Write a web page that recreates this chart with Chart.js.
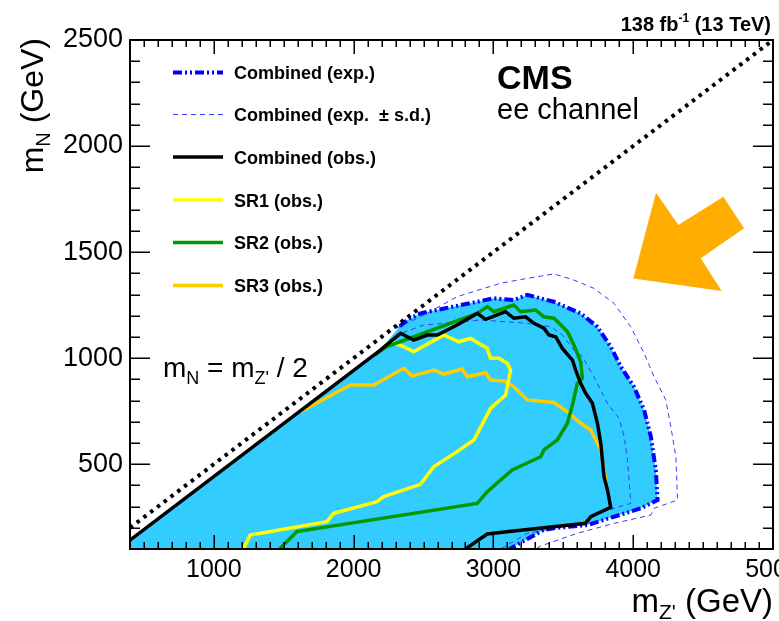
<!DOCTYPE html>
<html>
<head>
<meta charset="utf-8">
<script src="https://cdn.jsdelivr.net/npm/chart.js@4/dist/chart.umd.min.js"></script>
<style>
  html, body { margin: 0; padding: 0; background: #ffffff; }
  canvas { display: block; }
</style>
</head>
<body>
<canvas id="limits" width="779" height="621"></canvas>
<script>
// Axis ranges and tick labels (GeV)
const xRange = [400, 5000];
const yRange = [100, 2500];
const xTickLabels = [1000, 2000, 3000, 4000, 5000];
const yTickLabels = [500, 1000, 1500, 2000, 2500];

// Exclusion contours, [m_Z', m_N] in GeV
const combinedExp = [
  [2330, 1150], [2382, 1180], [2478, 1211], [2764, 1250], [3003, 1282], [3146, 1274],
  [3242, 1298], [3432, 1266], [3624, 1211], [3743, 1148], [3839, 1054], [3911, 960],
  [4005, 865], [4078, 755], [4126, 630], [4162, 472], [4174, 331], [4054, 292],
  [3862, 252], [3672, 213], [3433, 198], [3359, 190], [3115, 100]
];
const combinedExpUp = [
  [2300, 1140], [2478, 1195], [2741, 1290], [3051, 1353], [3242, 1376], [3433, 1397],
  [3576, 1368], [3719, 1329], [3863, 1258], [3982, 1148], [4078, 1023], [4149, 912],
  [4233, 803], [4269, 677], [4305, 535], [4317, 331], [4149, 292], [4126, 260],
  [3863, 221], [3600, 174], [3338, 114], [3302, 100]
];
const combinedExpDown = [
  [2350, 1120], [2502, 1156], [2908, 1180], [3242, 1164], [3409, 1148], [3493, 1109],
  [3576, 1038], [3636, 1007], [3719, 912], [3815, 787], [3899, 716], [3935, 630],
  [3959, 520], [3983, 315], [3863, 292], [3719, 260], [3624, 221], [3242, 174], [3051, 100]
];
const combinedObs = [
  [400, 142], [2191, 1038], [2335, 1117], [2430, 1085], [2526, 1109], [2598, 1109],
  [2740, 1156], [2884, 1211], [2944, 1183], [3087, 1219], [3146, 1188], [3230, 1195],
  [3290, 1164], [3361, 1141], [3397, 1109], [3445, 1101], [3493, 1046], [3565, 991],
  [3588, 944], [3624, 881], [3660, 834], [3708, 787], [3744, 693], [3768, 598],
  [3791, 441], [3816, 378], [3839, 297], [3696, 252], [3660, 221], [3144, 185],
  [2956, 171], [2800, 100]
];
const sr1Obs = [
  [1212, 100], [1260, 166], [1809, 229], [1857, 268], [2167, 323], [2215, 347],
  [2478, 405], [2573, 488], [2740, 559], [2860, 614], [2979, 763], [3087, 826],
  [3123, 944], [3099, 976], [3039, 999], [2979, 999], [2956, 1046], [2836, 1093],
  [2752, 1077], [2645, 1109], [2430, 1030], [2358, 1054], [2263, 1077], [2200, 1045]
];
const sr2Obs = [
  [1470, 100], [1594, 182], [2884, 315], [2956, 370], [3134, 473], [3338, 535],
  [3361, 567], [3457, 614], [3529, 693], [3565, 779], [3600, 881], [3636, 905],
  [3624, 983], [3576, 1062], [3529, 1125], [3433, 1188], [3361, 1195], [3302, 1227],
  [3194, 1219], [3146, 1250], [3003, 1219], [2956, 1243], [2884, 1211], [2238, 1054],
  [2150, 1015]
];
const sr3Obs = [
  [1618, 747], [1976, 873], [2143, 873], [2358, 952], [2418, 916], [2573, 944],
  [2645, 925], [2776, 949], [2812, 912], [2944, 931], [2979, 897], [3075, 892],
  [3146, 865], [3242, 803], [3433, 791], [3529, 747], [3624, 693], [3696, 661],
  [3768, 567], [3791, 472], [3805, 420]
];
// m_N = m_Z' / 2 boundary
const kinematicEdge = [[400, 200], [5000, 2500]];
// Block arrow outline, in GeV coordinates
const arrowShape = [
  [4001, 1376], [4163, 1780], [4323, 1628], [4645, 1761],
  [4793, 1612], [4483, 1471], [4633, 1317]
];

const legendLabels = [
  'Combined (exp.)', 'Combined (exp.  \u00b1 s.d.)', 'Combined (obs.)',
  'SR1 (obs.)', 'SR2 (obs.)', 'SR3 (obs.)'
];

const FONT = '"Liberation Sans", Arial, Helvetica, sans-serif';
Chart.defaults.font.family = FONT;
Chart.defaults.color = '#000';

const pts = arr => arr.map(([x, y]) => ({ x, y }));

// Excluded region: left axis, along the kinematic edge, then the expected contour
const excludedRegion = [[xRange[0], yRange[0]], combinedObs[0], combinedObs[1], ...combinedExp];

const styles = {
  exp:  { borderColor: '#0000ff', borderWidth: 4, borderDash: [9, 3, 2, 3, 2, 3] },
  sd:   { borderColor: '#3a3aff', borderWidth: 1, borderDash: [5, 4] },
  obs:  { borderColor: '#000000', borderWidth: 3.5, borderDash: [] },
  sr1:  { borderColor: '#ffff00', borderWidth: 3.5, borderDash: [] },
  sr2:  { borderColor: '#009900', borderWidth: 3.5, borderDash: [] },
  sr3:  { borderColor: '#ffcc00', borderWidth: 3.5, borderDash: [] }
};
const legendStyles = [styles.exp, styles.sd, styles.obs, styles.sr1, styles.sr2, styles.sr3];

function lineSet(label, data, style, order) {
  return Object.assign({
    label, data: pts(data), showLine: true, pointRadius: 0, pointHoverRadius: 0,
    fill: false, tension: 0, order
  }, style);
}

// Text with sub/superscript pieces
function richText(ctx, parts, x, y, align) {
  let w = 0;
  parts.forEach(p => { ctx.font = p.font; p.w = ctx.measureText(p.t).width; w += p.w; });
  let cx = align === 'right' ? x - w : x;
  ctx.textAlign = 'left';
  ctx.textBaseline = 'alphabetic';
  parts.forEach(p => { ctx.font = p.font; ctx.fillText(p.t, cx, y + (p.dy || 0)); cx += p.w; });
}

const decor = {
  id: 'decor',
  afterDatasetsDraw(chart) {
    const { ctx, chartArea: a, scales: { x, y } } = chart;
    ctx.save();
    // arrow
    ctx.fillStyle = '#ffad00';
    ctx.beginPath();
    arrowShape.forEach(([vx, vy], i) => {
      const px = x.getPixelForValue(vx), py = y.getPixelForValue(vy);
      if (i === 0) ctx.moveTo(px, py); else ctx.lineTo(px, py);
    });
    ctx.closePath();
    ctx.fill();

    // frame
    ctx.strokeStyle = '#000';
    ctx.lineWidth = 2;
    ctx.strokeRect(a.left, a.top, a.right - a.left, a.bottom - a.top);

    // ticks on all four sides
    ctx.lineWidth = 1.5;
    ctx.beginPath();
    for (let v = xRange[0]; v <= xRange[1]; v += 100) {
      const px = Math.round(x.getPixelForValue(v)) + 0.25;
      const len = v % 1000 === 0 ? 14 : 7;
      ctx.moveTo(px, a.bottom); ctx.lineTo(px, a.bottom - len);
      ctx.moveTo(px, a.top); ctx.lineTo(px, a.top + len);
    }
    for (let v = yRange[0]; v <= yRange[1]; v += 100) {
      const py = Math.round(y.getPixelForValue(v)) + 0.25;
      const len = v % 500 === 0 ? 20 : 10;
      ctx.moveTo(a.left, py); ctx.lineTo(a.left + len, py);
      ctx.moveTo(a.right, py); ctx.lineTo(a.right - len, py);
    }
    ctx.stroke();
    ctx.restore();
  },
  afterDraw(chart) {
    const { ctx, chartArea: a } = chart;
    ctx.save();
    ctx.fillStyle = '#000';

    // luminosity label
    richText(ctx, [
      { t: '138 fb', font: `bold 20px ${FONT}` },
      { t: '-1', font: `bold 12px ${FONT}`, dy: -9 },
      { t: ' (13 TeV)', font: `bold 20px ${FONT}` }
    ], 771, 31, 'right');

    // experiment and channel
    ctx.textAlign = 'left';
    ctx.textBaseline = 'alphabetic';
    ctx.font = `bold 34px ${FONT}`;
    ctx.fillText('CMS', 497, 89);
    ctx.font = `29px ${FONT}`;
    ctx.fillText('ee channel', 497, 119);

    // diagonal annotation
    richText(ctx, [
      { t: 'm', font: `28px ${FONT}` },
      { t: 'N', font: `18px ${FONT}`, dy: 7 },
      { t: ' = m', font: `28px ${FONT}` },
      { t: "Z'", font: `18px ${FONT}`, dy: 7 },
      { t: ' / 2', font: `28px ${FONT}` }
    ], 163, 377, 'left');

    // legend
    const rowY = [72.5, 114.5, 157, 200, 242.5, 285.5];
    legendLabels.forEach((lab, i) => {
      const s = legendStyles[i];
      ctx.save();
      ctx.strokeStyle = s.borderColor;
      ctx.lineWidth = s.borderWidth;
      ctx.setLineDash(s.borderDash);
      ctx.beginPath();
      ctx.moveTo(173, rowY[i]);
      ctx.lineTo(223, rowY[i]);
      ctx.stroke();
      ctx.restore();
      ctx.font = `bold 18px ${FONT}`;
      ctx.textAlign = 'left';
      ctx.textBaseline = 'alphabetic';
      ctx.fillText(lab, 234, rowY[i] + 6.5);
    });

    // x-axis title
    richText(ctx, [
      { t: 'm', font: `33px ${FONT}` },
      { t: "Z'", font: `21px ${FONT}`, dy: 7 },
      { t: ' (GeV)', font: `33px ${FONT}` }
    ], a.right, 612, 'right');

    // y-axis title
    ctx.save();
    ctx.translate(43, 38);
    ctx.rotate(-Math.PI / 2);
    richText(ctx, [
      { t: 'm', font: `32px ${FONT}` },
      { t: 'N', font: `20px ${FONT}`, dy: 7 },
      { t: ' (GeV)', font: `32px ${FONT}` }
    ], 0, 0, 'right');
    ctx.restore();
    ctx.restore();
  }
};

new Chart(document.getElementById('limits'), {
  type: 'scatter',
  data: {
    datasets: [
      lineSet('m_N = m_Z\'/2', kinematicEdge,
        { borderColor: '#000000', borderWidth: 4, borderDash: [3.5, 5] }, 0),
      lineSet('Combined (obs.)', combinedObs, styles.obs, 1),
      lineSet('SR2 (obs.)', sr2Obs, styles.sr2, 2),
      lineSet('SR1 (obs.)', sr1Obs, styles.sr1, 3),
      lineSet('SR3 (obs.)', sr3Obs, styles.sr3, 4),
      lineSet('Combined (exp.)', combinedExp, styles.exp, 5),
      lineSet('Combined (exp. +1 s.d.)', combinedExpUp, styles.sd, 6),
      lineSet('Combined (exp. -1 s.d.)', combinedExpDown, styles.sd, 7),
      Object.assign(lineSet('Excluded (exp.)', excludedRegion,
        { borderColor: 'rgba(0,0,0,0)', borderWidth: 1, borderDash: [] }, 8),
        { fill: 'shape', backgroundColor: '#33ccff' })
    ]
  },
  options: {
    responsive: false,
    animation: false,
    events: [],
    layout: { padding: { top: 40, right: 6, left: 0, bottom: 0 } },
    plugins: { legend: { display: false }, tooltip: { enabled: false } },
    scales: {
      x: {
        type: 'linear', position: 'bottom', min: xRange[0], max: xRange[1],
        grid: { display: false, drawTicks: false }, border: { display: false },
        ticks: { font: { size: 25 }, color: '#000', padding: 6, autoSkip: false, maxRotation: 0,
                 callback: v => String(v) },
        afterBuildTicks: s => { s.ticks = xTickLabels.map(v => ({ value: v })); },
        afterFit: s => { s.height = 72; s.paddingLeft = 0; s.paddingRight = 0; }
      },
      y: {
        type: 'linear', position: 'left', min: yRange[0], max: yRange[1],
        grid: { display: false, drawTicks: false }, border: { display: false },
        ticks: { font: { size: 27 }, color: '#000', padding: 7, autoSkip: false,
                 callback: v => String(v) },
        afterBuildTicks: s => { s.ticks = yTickLabels.map(v => ({ value: v })); },
        afterFit: s => { s.width = 130; s.paddingTop = 0; s.paddingBottom = 0; }
      }
    }
  },
  plugins: [decor]
});
</script>
</body>
</html>
